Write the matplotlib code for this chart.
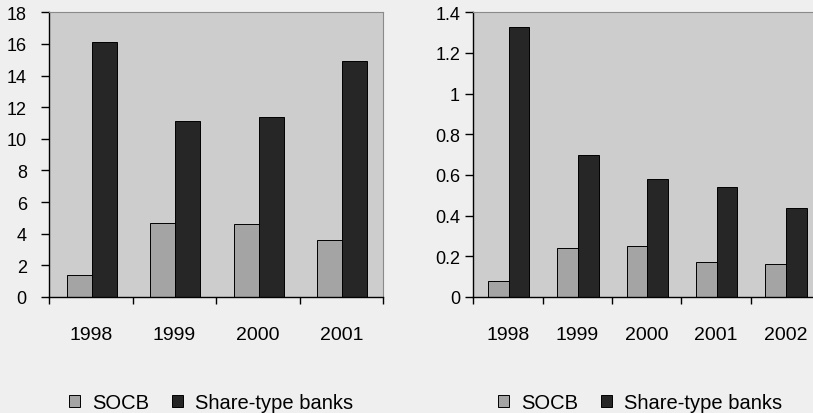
import numpy as np
import matplotlib.pyplot as plt

plt.rcParams['font.family'] = ['Liberation Sans', 'DejaVu Sans']

years_left = ['1998', '1999', '2000', '2001']
socb_left = [1.4, 4.7, 4.6, 3.6]
share_left = [16.1, 11.1, 11.4, 14.9]

years_right = ['1998', '1999', '2000', '2001', '2002']
socb_right = [0.08, 0.24, 0.25, 0.17, 0.16]
share_right = [1.33, 0.70, 0.58, 0.54, 0.44]

fig_bg = '#efefef'
plot_bg = '#cdcdcd'
socb_col = '#a4a4a4'
share_col = '#262626'

fig = plt.figure(figsize=(8.13, 4.14), dpi=100, facecolor=fig_bg)

W, H = 813., 414.
ax1 = fig.add_axes([49/W, (H-298)/H, (383-49)/W, (298-13.3)/H])
ax2 = fig.add_axes([473.3/W, (H-298)/H, (820-473.3)/W, (298-13.3)/H])


def draw(ax, years, socb, share, ymax, ystep, ypad):
    n = len(years)
    x = np.arange(n)
    w = 0.3
    ax.set_facecolor(plot_bg)
    ax.bar(x - w/2 + 0.01, socb, w, color=socb_col, edgecolor='black', linewidth=0.7, label='SOCB')
    ax.bar(x + w/2 + 0.01, share, w, color=share_col, edgecolor='black', linewidth=0.7, label='Share-type banks')
    ax.set_xlim(-0.5, n - 0.5)
    ax.set_ylim(0, ymax)
    yt = np.arange(0, ymax + ystep/2, ystep)
    ax.set_yticks(yt)
    ax.set_yticklabels(['%g' % round(v, 1) for v in yt])
    ax.set_xticks(np.arange(n + 1) - 0.5)
    ax.set_xticklabels([])
    ax.set_xticks(x, minor=True)
    ax.set_xticklabels(years, minor=True)
    ax.tick_params(axis='x', which='major', direction='out', length=5, width=1)
    ax.tick_params(axis='x', which='minor', length=0, pad=21, labelsize=14)
    ax.tick_params(axis='y', direction='out', length=6, width=1, pad=ypad, labelsize=13)
    for s in ['top', 'right']:
        ax.spines[s].set_color('#8a8a8a')
        ax.spines[s].set_linewidth(0.8)
    for s in ['left', 'bottom']:
        ax.spines[s].set_color('black')
        ax.spines[s].set_linewidth(1)


draw(ax1, years_left, socb_left, share_left, 18, 2, 10)
draw(ax2, years_right, socb_right, share_right, 1.4, 0.2, 3.5)

# legends sit under each panel
for ax, cx in [(ax1, 211/W), (ax2, 640/W)]:
    ax.legend(loc='center', bbox_to_anchor=(cx, 10/H), bbox_transform=fig.transFigure,
              ncol=2, frameon=False, fontsize=14.5, handlelength=0.55, handleheight=0.55,
              handletextpad=0.6, columnspacing=1.1)

fig.savefig('out.png', dpi=100, facecolor=fig_bg)
